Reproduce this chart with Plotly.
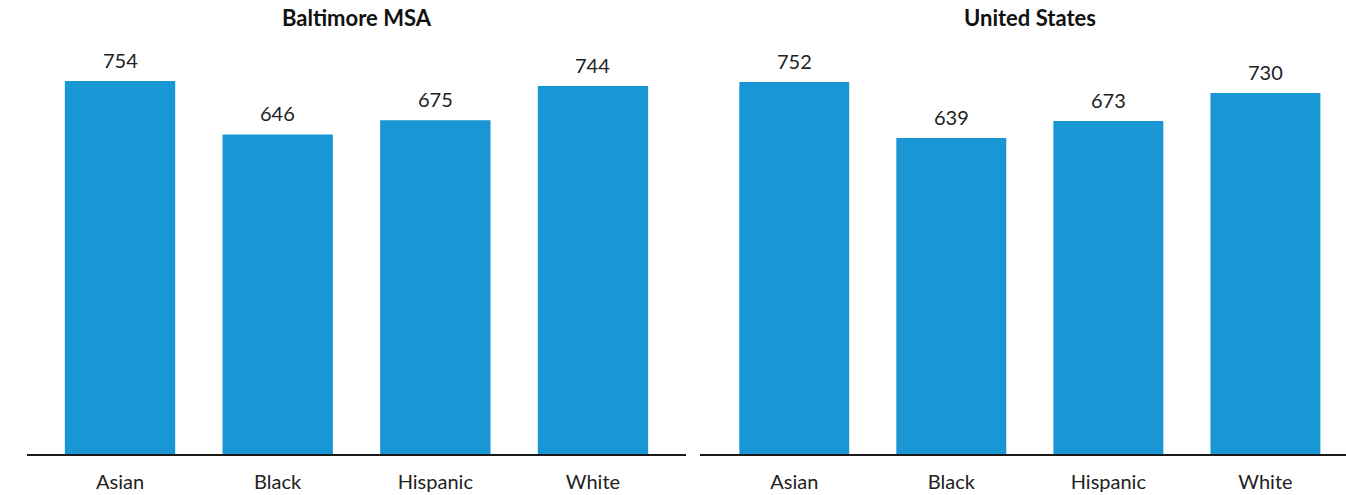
import plotly.graph_objects as go

categories = ["Asian", "Black", "Hispanic", "White"]
baltimore_values = [754, 646, 675, 744]
us_values = [752, 639, 673, 730]
panel_titles = ["Baltimore MSA", "United States"]

BAR_COLOR = "#1897d4"
FONT = "Lato"

fig = go.Figure()

panels = [
    (baltimore_values, "x", "y"),
    (us_values, "x2", "y2"),
]

for vals, xa, ya in panels:
    fig.add_trace(go.Bar(
        x=categories, y=vals, xaxis=xa, yaxis=ya,
        marker=dict(color=BAR_COLOR, line=dict(width=0)),
        width=0.7, hoverinfo="x+y", showlegend=False,
    ))
    for c, v in zip(categories, vals):
        fig.add_annotation(
            x=c, y=v, xref=xa, yref=ya, text=str(v), showarrow=False,
            yanchor="bottom", yshift=7,
            font=dict(family=FONT, size=20, color="#222222"),
        )

axis_common = dict(
    showline=True, linecolor="#1a1a1a", linewidth=2,
    showgrid=False, zeroline=False, ticks="",
    tickfont=dict(family=FONT, size=20, color="#222222"),
    ticklabelstandoff=9, fixedrange=True,
)
yaxis_common = dict(range=[0, 837], visible=False, fixedrange=True)

fig.update_layout(
    width=1346, height=495,
    margin=dict(l=0, r=0, t=40, b=41),
    paper_bgcolor="white", plot_bgcolor="white",
    font=dict(family=FONT),
    xaxis=dict(domain=[27 / 1346, 686 / 1346], range=[-0.59, 3.59], **axis_common),
    xaxis2=dict(domain=[700 / 1346, 1.0], range=[-0.6, 3.513], anchor="y2", **axis_common),
    yaxis=dict(**yaxis_common),
    yaxis2=dict(anchor="x2", **yaxis_common),
)

for title, cx in zip(panel_titles, [356.5, 1030]):
    fig.add_annotation(
        x=cx / 1346, y=1, xref="paper", yref="paper",
        xanchor="center", yanchor="middle", yshift=23,
        text=f"<b>{title}</b>", showarrow=False,
        font=dict(family=FONT, size=22, color="#111111"),
    )

fig.write_html("out.html")
